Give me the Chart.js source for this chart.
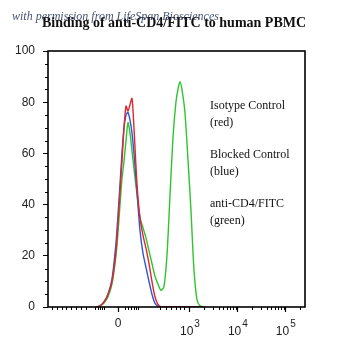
<!DOCTYPE html>
<html>
<head>
<meta charset="utf-8">
<script src="https://cdn.jsdelivr.net/npm/chart.js@4.4.1/dist/chart.umd.min.js"></script>
<style>
  html, body { margin: 0; padding: 0; background: #fff; }
  #wrap { width: 342px; height: 352px; }
</style>
</head>
<body>
<div id="wrap"><canvas id="facsChart"></canvas></div>
<script>
/* Binding of anti-CD4/FITC to human PBMC — FACS histogram overlay */

// x positions on the display (logicle) axis, in decades: 1.5 = "0", 3 = 10^3 ...
const xPos = [1.042, 1.125, 1.208, 1.292, 1.375, 1.458, 1.5, 1.542, 1.583, 1.625,
              1.667, 1.708, 1.75, 1.792, 1.833, 1.896, 1.958, 2.021, 2.083, 2.146,
              2.208, 2.271, 2.333, 2.396, 2.458, 2.521, 2.583, 2.646, 2.708, 2.75,
              2.792, 2.833, 2.896, 2.958, 3.021, 3.083, 3.146, 3.208, 3.292];

const isotype = [0, 0.5, 2, 5, 10, 22, 33, 45, 57, 70,
                 78.5, 76.5, 79, 81.5, 70, 48, 35, 28, 23, 17,
                 10, 4, 1, 0, 0, 0, 0, 0, 0, 0,
                 0, 0, 0, 0, 0, 0, 0, 0, 0];

const blocked = [0, 0.5, 2, 5, 11, 25, 36, 48, 60, 70,
                 75, 76, 73, 68, 60, 45, 30, 21, 15.5, 10,
                 5, 1.5, 0.3, 0, 0, 0, 0, 0, 0, 0,
                 0, 0, 0, 0, 0, 0, 0, 0, 0];

const antiCD4 = [0, 0.3, 1.5, 4, 9, 20, 29, 40, 50, 57,
                 65, 72, 68, 61, 54, 44, 35, 31, 27, 22,
                 17, 12, 9, 6.5, 8, 20, 43, 66, 80, 85,
                 88, 85, 76, 58, 38, 15, 3, 0.5, 0];

const seriesNames = ['Isotype Control', 'Blocked Control', 'anti-CD4/FITC'];
const seriesNotes = ['(red)', '(blue)', '(green)'];

// axis ticks
const xMajorTicks = [1.5, 3, 4, 5];
const xTickBase = ['0', '10', '10', '10'];
const xTickExp = ['', '3', '4', '5'];
const xLinearMinor = [0.125, 0.229, 0.333, 0.417, 0.521, 0.625, 0.729, 0.833,
                      1.021, 1.083, 1.125, 1.167, 1.208,
                      1.646, 1.708, 1.771, 1.833, 1.885, 1.927,
                      2.375, 2.5, 2.604, 2.708, 2.792, 2.875];
const xLogMultipliers = [2, 3, 4, 5, 6, 7, 8, 9];
const yMinorTicks = [5, 10, 15, 25, 30, 35, 45, 50, 55, 65, 70, 75, 85, 90, 95];

const titleText = 'Binding of anti-CD4/FITC to human PBMC';
const creditText = 'with permission from LifeSpan Biosciences';

const xMinorTicks = xLinearMinor.concat(
  [3, 4, 5].flatMap(d => xLogMultipliers.map(k => d + Math.log10(k)))
).filter(v => v < 5.4);

const toPoints = ys => xPos.map((x, i) => ({ x, y: ys[i] }));

// ---- frame, minor ticks, x labels, title and side legend ----
const decor = {
  id: 'decor',
  afterDraw(chart) {
    const { ctx, chartArea: a, scales: { x, y } } = chart;
    ctx.save();

    // minor tick marks
    ctx.strokeStyle = '#000';
    ctx.lineWidth = 1;
    ctx.beginPath();
    xMinorTicks.forEach(v => {
      const px = Math.round(x.getPixelForValue(v)) + 0.5;
      ctx.moveTo(px, a.bottom);
      ctx.lineTo(px, a.bottom + 3);
    });
    yMinorTicks.forEach(v => {
      const py = Math.round(y.getPixelForValue(v)) + 0.5;
      ctx.moveTo(a.left, py);
      ctx.lineTo(a.left - 3, py);
    });
    ctx.stroke();

    // plot frame
    ctx.lineWidth = 1.6;
    ctx.strokeRect(a.left, a.top, a.right - a.left, a.bottom - a.top);

    // x tick labels (0, 10^3, 10^4, 10^5)
    ctx.fillStyle = '#222';
    ctx.textBaseline = 'middle';
    xMajorTicks.forEach((v, i) => {
      const px = x.getPixelForValue(v);
      if (!xTickExp[i]) {
        ctx.font = "12px 'Liberation Sans', Arial, sans-serif";
        ctx.textAlign = 'center';
        ctx.fillText(xTickBase[i], px, a.bottom + 16.5);
        return;
      }
      ctx.font = "12px 'Liberation Sans', Arial, sans-serif";
      const wb = ctx.measureText(xTickBase[i]).width;
      ctx.font = "10px 'Liberation Sans', Arial, sans-serif";
      const we = ctx.measureText(xTickExp[i]).width;
      const start = px - (wb + we + 1) / 2;
      ctx.textAlign = 'left';
      ctx.font = "12px 'Liberation Sans', Arial, sans-serif";
      ctx.fillText(xTickBase[i], start, a.bottom + 25);
      ctx.font = "10px 'Liberation Sans', Arial, sans-serif";
      ctx.fillText(xTickExp[i], start + wb + 1, a.bottom + 17.5);
    });

    // side legend
    ctx.fillStyle = '#111';
    ctx.textAlign = 'left';
    ctx.font = "12px 'Liberation Serif', 'Times New Roman', serif";
    seriesNames.forEach((name, i) => {
      const y0 = 106 + i * 49;
      ctx.fillText(name, 210, y0);
      ctx.fillText(seriesNotes[i], 210, y0 + 16.5);
    });

    // title
    ctx.textAlign = 'center';
    ctx.textBaseline = 'alphabetic';
    ctx.fillStyle = '#111';
    ctx.font = "bold 14px 'Liberation Serif', 'Times New Roman', serif";
    ctx.fillText(titleText, 174, 27);

    // credit watermark written over the title
    ctx.textAlign = 'left';
    ctx.fillStyle = 'rgba(35, 50, 85, 0.85)';
    ctx.font = "italic 12px 'Liberation Serif', 'Times New Roman', serif";
    ctx.fillText(creditText, 12, 20);

    ctx.restore();
  }
};

new Chart(document.getElementById('facsChart'), {
  type: 'line',
  data: {
    datasets: [
      { label: seriesNames[0], data: toPoints(isotype), borderColor: '#e3262b' },
      { label: seriesNames[1], data: toPoints(blocked), borderColor: '#2d55d6' },
      { label: seriesNames[2], data: toPoints(antiCD4), borderColor: '#2fc42f' }
    ].map(d => Object.assign(d, {
      borderWidth: 1.4,
      pointRadius: 0,
      tension: 0.25,
      fill: false
    }))
  },
  options: {
    responsive: true,
    maintainAspectRatio: false,
    animation: false,
    devicePixelRatio: 1,
    layout: { padding: { top: 51, right: 37, bottom: 0, left: 0 } },
    plugins: {
      legend: { display: false },
      tooltip: { enabled: false }
    },
    scales: {
      x: {
        type: 'linear',
        min: 0.04,
        max: 5.4,
        afterBuildTicks: s => { s.ticks = xMajorTicks.map(v => ({ value: v })); },
        afterFit: s => { s.height = 45; },
        ticks: { display: false },
        grid: { drawOnChartArea: false, color: '#000', tickLength: 5, tickWidth: 1.2 },
        border: { display: false }
      },
      y: {
        min: 0,
        max: 100,
        afterFit: s => { s.width = 48; },
        ticks: {
          stepSize: 20,
          padding: 8,
          color: '#222',
          font: { family: "'Liberation Sans', Arial, sans-serif", size: 12 }
        },
        grid: { drawOnChartArea: false, color: '#000', tickLength: 5 },
        border: { display: false }
      }
    }
  },
  plugins: [decor]
});
</script>
</body>
</html>
